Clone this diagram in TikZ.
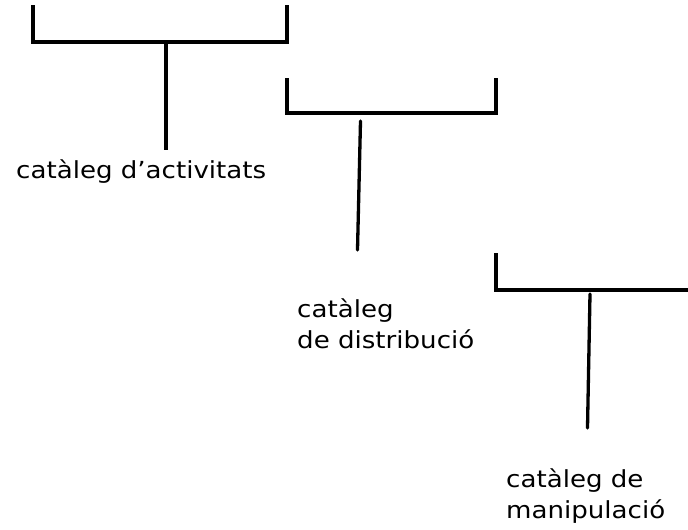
\documentclass[tikz,border=0pt]{standalone}
\usepackage{fontspec}
\setmainfont[FakeStretch=1.11]{DejaVu Sans}
\begin{document}
\begin{tikzpicture}[x=1pt,y=-1pt,
  ln/.style={line width=3.3pt,line cap=butt,line join=miter},
  stem/.style={line width=3.3pt,line cap=round},
  lbl/.style={font=\fontsize{23.5}{30.5}\selectfont,anchor=base west,inner sep=0pt,align=left}]
\useasboundingbox (0,0) rectangle (688,530);
% bracket 1
\draw[ln] (33,5) -- (33,42) -- (287,42) -- (287,5);
\coordinate (s1a) at (166,42);
\coordinate (s1b) at (166,150);
\draw[ln] (s1a) -- (s1b);
\node[lbl] (t1) at (16,178) {catàleg d’activitats};
% bracket 2
\draw[ln] (287,78) -- (287,113) -- (496,113) -- (496,78);
\coordinate (s2a) at (360.5,121);
\coordinate (s2b) at (357.5,250);
\draw[stem] (s2a) -- (s2b);
\node[lbl] (t2) at (297,348) {catàleg\\de distribució};
% bracket 3
\draw[ln] (496,253) -- (496,290) -- (688,290);
\coordinate (s3a) at (590,294);
\coordinate (s3b) at (587.5,428);
\draw[stem] (s3a) -- (s3b);
\node[lbl] (t3) at (506,518) {catàleg de\\manipulació};
\end{tikzpicture}
\end{document}
